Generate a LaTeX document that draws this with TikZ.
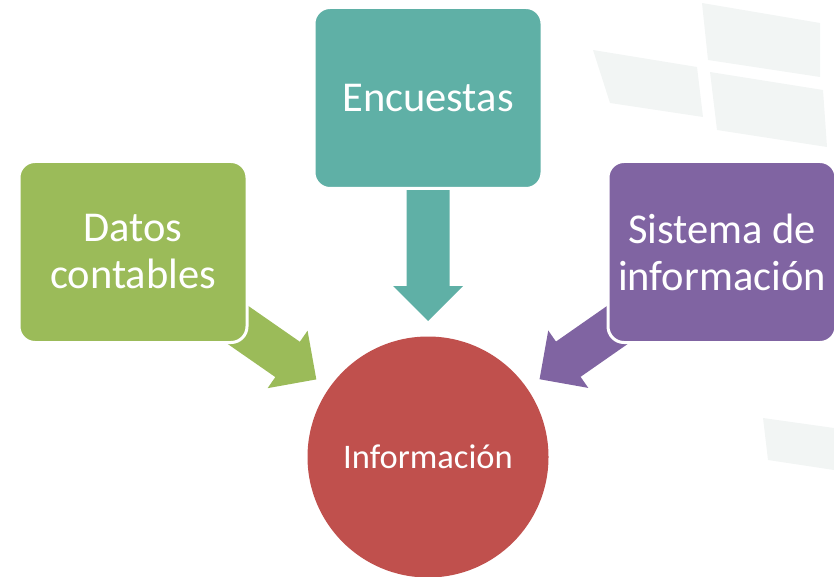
\documentclass[tikz,border=0pt]{standalone}
\usepackage{fontspec}
\setmainfont{Carlito}
\usetikzlibrary{calc}
\definecolor{cgreen}{HTML}{9BBB59}
\definecolor{cteal}{HTML}{5FB0A6}
\definecolor{cpurple}{HTML}{8064A2}
\definecolor{cred}{HTML}{C0504D}
\definecolor{cbgshape}{HTML}{F2F5F4}
\tikzset{
  boxnode/.style={draw=white, line width=3pt, rounded corners=16pt,
    minimum width=228pt, minimum height=181pt, text=white, align=center,
    font=\fontsize{42.5}{47}\selectfont, inner sep=0pt},
  circnode/.style={circle, fill=cred, minimum size=241pt, text=white,
    font=\fontsize{34.5}{38}\selectfont, inner sep=0pt},
  bgshape/.style={fill=cbgshape, draw=none}
}
% #1 colour, #2 source, #3 target
\newcommand\radialarrow[3]{%
  \coordinate (S) at (#2);
  \coordinate (T) at ($(#3)!136pt!(#2)$);
  \coordinate (H) at ($(T)!35pt!(S)$);
  \fill[#1] ($(S)!21.5pt!-90:(H)$) -- ($(H)!21.5pt!90:(S)$) -- ($(H)!35pt!90:(S)$)
    -- (T) -- ($(H)!35pt!-90:(S)$) -- ($(H)!21.5pt!-90:(S)$) -- ($(S)!21.5pt!90:(H)$) -- cycle;
}
\begin{document}
\begin{tikzpicture}[x=1pt,y=-1pt]
\useasboundingbox (0,0) rectangle (834,577);
% faint background shapes
\fill[bgshape] (702,3) -- (820,23) -- (820,77) -- (708,60) -- cycle;
\fill[bgshape] (593,50) -- (697,67) -- (703,117) -- (610,103) -- cycle;
\fill[bgshape] (710,72) -- (823,90) -- (827,147) -- (717,130) -- cycle;
\fill[bgshape] (763,418) -- (834,428) -- (834,470) -- (768,460) -- cycle;
% positions
\coordinate (pdatos) at (133,252);
\coordinate (pencu) at (428,98);
\coordinate (psis) at (722,252);
\coordinate (pinfo) at (428,457);
% arrows
\radialarrow{cgreen}{pdatos}{pinfo}
\radialarrow{cteal}{pencu}{pinfo}
\radialarrow{cpurple}{psis}{pinfo}
% boxes
\node[boxnode, fill=cgreen] (datos) at (pdatos) {Datos\\contables};
\node[boxnode, fill=cteal] (encu) at (pencu) {Encuestas};
\node[boxnode, fill=cpurple] (sis) at (psis) {Sistema de\\información};
\node[circnode] (info) at (pinfo) {Información};
\end{tikzpicture}
\end{document}
